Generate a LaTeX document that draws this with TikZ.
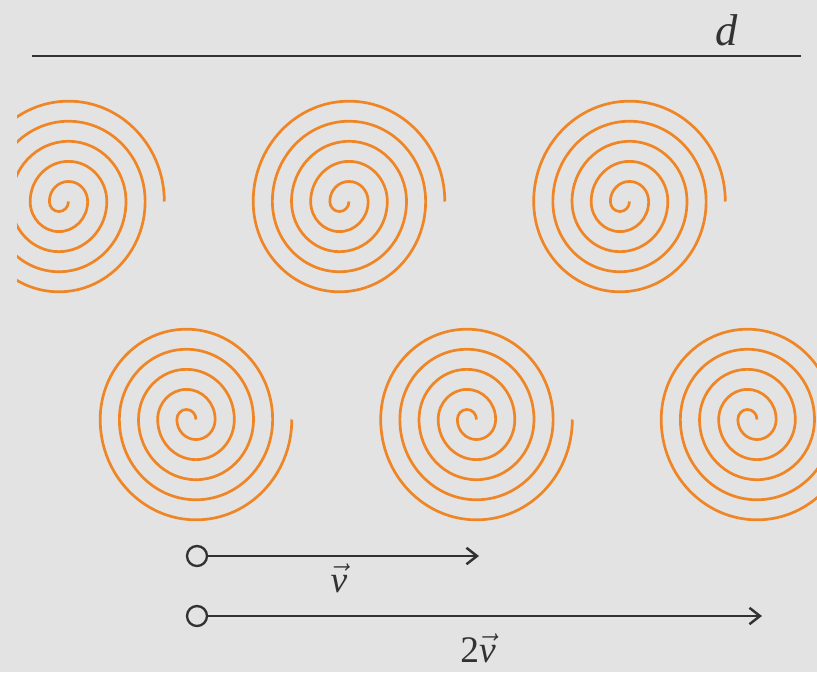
\documentclass[tikz,border=0pt]{standalone}
\usepackage{fix-cm}
\usepackage[no-math]{fontspec}
\setmainfont{Liberation Serif}
\usetikzlibrary{arrows.meta, positioning}

\definecolor{slidegray}{RGB}{227,227,227}
\definecolor{coilorange}{RGB}{239,133,36}
\definecolor{inkgray}{RGB}{50,50,50}

\begin{document}
\begin{tikzpicture}[x=0.03cm, y=-0.03cm, >={Straight Barb[length=9pt, width=14pt]},
  coil/.style={draw=coilorange, line width=2.3pt},
  topline/.style={draw=inkgray, line width=2.1pt},
  vecline/.style={draw=inkgray, line width=2.1pt},
  ring/.style={circle, draw=inkgray, line width=2pt, minimum size=0.6cm, inner sep=0pt},
  vectext/.style={anchor=base, inner sep=0pt, text=inkgray, font=\fontsize{32}{32}\selectfont}]
  % Pozadi
  \fill[slidegray] (0,0) rectangle (817,672);
  \useasboundingbox (0,0) rectangle (817,672);

  % Spiraly
  \begin{scope}
    \clip (17,0) rectangle (817,672);
    % horni rada
    \foreach \cx in {68.5, 349, 629.5}
      \draw[coil] (\cx,201.5)
        \foreach \k in {1,...,5}{
          arc[start angle=0, end angle=-180, x radius={(2*\k-1)*0.2874cm}, y radius={(2*\k-1)*0.301cm}]
          arc[start angle=180, end angle=0, x radius={2*\k*0.2874cm}, y radius={2*\k*0.301cm}]
        };
    % dolni rada (zrcadlene)
    \foreach \cx in {196, 476.5, 757}
      \draw[coil] (\cx,419.5)
        \foreach \k in {1,...,5}{
          arc[start angle=0, end angle=180, x radius={(2*\k-1)*0.2874cm}, y radius={(2*\k-1)*0.301cm}]
          arc[start angle=-180, end angle=0, x radius={2*\k*0.2874cm}, y radius={2*\k*0.301cm}]
        };
  \end{scope}

  % Vzdalenost d
  \coordinate (dleft) at (32,56);
  \coordinate (dright) at (801,56);
  \draw[topline] (dleft) -- (dright);
  \node[vectext, font=\fontsize{38}{38}\selectfont] (dlab) at (727,45) {\textit{d}};

  % Rychlosti
  \node[ring] (vtail) at (197,556) {};
  \coordinate (vhead) at (479,556);
  \draw[vecline, ->] (vtail) -- (vhead);
  \node[vectext] (vlab) at (339,592) {$\vec{\mbox{\itshape v}}$};

  \node[ring] (wtail) at (197,616) {};
  \coordinate (whead) at (762,616);
  \draw[vecline, ->] (wtail) -- (whead);
  \node[vectext] (wlab) at (478,662) {2$\vec{\mbox{\itshape v}}$};
\end{tikzpicture}
\end{document}
